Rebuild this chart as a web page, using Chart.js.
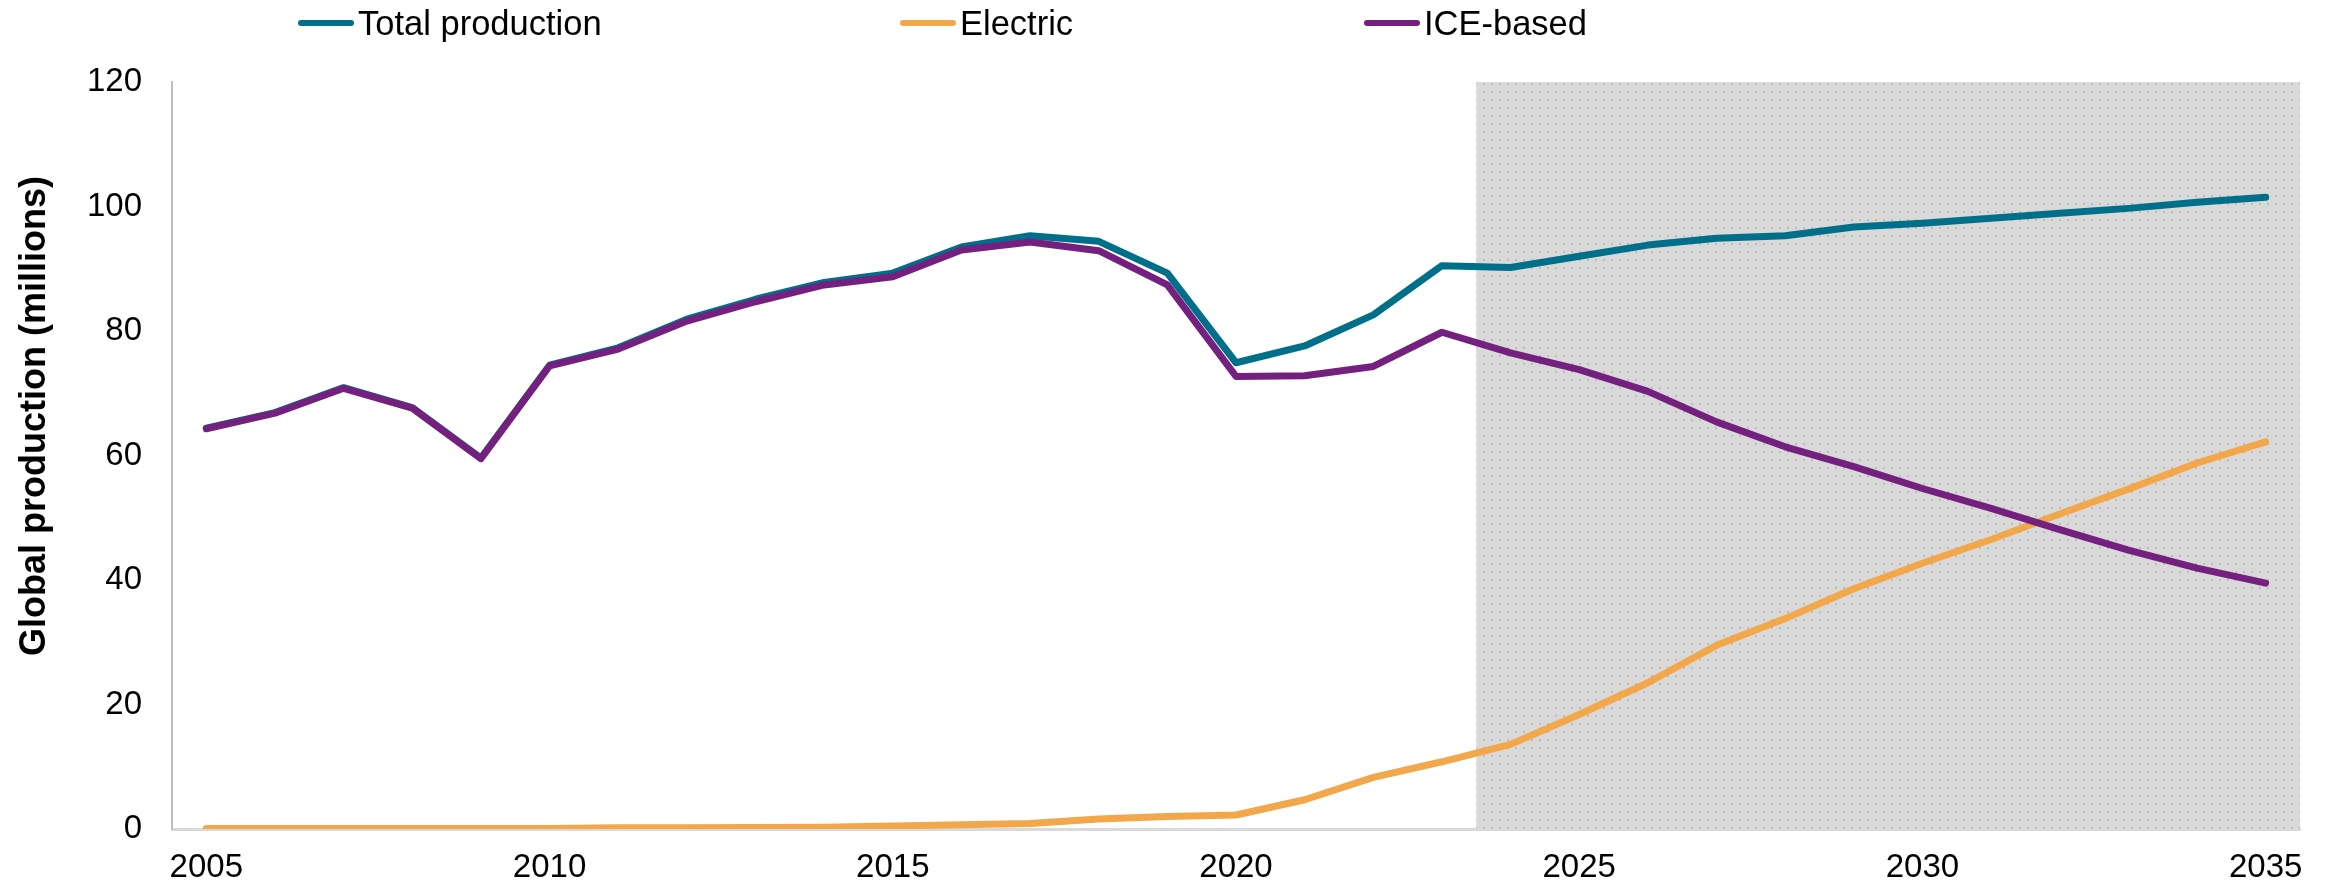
<!DOCTYPE html>
<html>
<head>
<meta charset="utf-8">
<title>Global vehicle production</title>
<script src="https://cdn.jsdelivr.net/npm/chart.js@4.4.1/dist/chart.umd.min.js"></script>
<style>
  body { margin: 0; background: #fff; font-family: "Liberation Sans", Arial, sans-serif; color: #000; }
  #wrap { position: relative; width: 2333px; height: 886px; overflow: hidden; }
  #chart { position: absolute; left: 0; top: 0; }
  .item { position: absolute; top: 6px; height: 34px; display: flex; align-items: center;
          font-size: 34.5px; line-height: 34px; white-space: nowrap; }
  .swatch { width: 56px; height: 6px; border-radius: 3px; margin-right: 4px; }
  #ytitle { position: absolute; left: 33px; top: 416px; transform: translate(-50%, -50%) rotate(-90deg);
            font-weight: bold; font-size: 36px; white-space: nowrap; }
</style>
</head>
<body>
<div id="wrap">
  <canvas id="chart" width="2333" height="886"></canvas>
  <div id="legend"></div>
  <div id="ytitle">Global production (millions)</div>
</div>
<script>
const years = [2005, 2006, 2007, 2008, 2009, 2010, 2011, 2012, 2013, 2014, 2015,
               2016, 2017, 2018, 2019, 2020, 2021, 2022, 2023, 2024, 2025, 2026,
               2027, 2028, 2029, 2030, 2031, 2032, 2033, 2034, 2035];
const yearTicks = [2005, 2010, 2015, 2020, 2025, 2030, 2035];
const forecastStart = 2024;

// millions of vehicles
const totalProduction = [64.4, 66.9, 70.9, 67.7, 59.6, 74.5, 77.3, 81.9, 85.1, 87.8, 89.3,
                         93.5, 95.3, 94.4, 89.3, 74.9, 77.6, 82.6, 90.5, 90.2, 92.0, 93.8,
                         94.9, 95.3, 96.7, 97.3, 98.1, 98.9, 99.7, 100.7, 101.5];
const electric = [0.1, 0.1, 0.1, 0.1, 0.1, 0.1, 0.2, 0.2, 0.25, 0.3, 0.5,
                  0.7, 0.9, 1.6, 2.0, 2.25, 4.7, 8.3, 10.8, 13.6, 18.4, 23.5,
                  29.5, 33.8, 38.6, 42.7, 46.5, 50.6, 54.6, 58.8, 62.2];
const iceBased = [64.3, 66.8, 70.8, 67.6, 59.5, 74.4, 77.1, 81.6, 84.7, 87.4, 88.7,
                  93.0, 94.3, 92.9, 87.4, 72.7, 72.8, 74.3, 79.8, 76.5, 73.8, 70.3,
                  65.4, 61.4, 58.2, 54.7, 51.5, 48.1, 44.8, 41.9, 39.5];

const colors = { total: '#00708a', electric: '#f2a84a', ice: '#74207f' };
const font = { family: '"Liberation Sans", Arial, sans-serif', size: 33 };

// dotted grey fill used behind the projection years
function dotPattern(ctx) {
  const tile = document.createElement('canvas');
  tile.width = 8; tile.height = 8;
  const t = tile.getContext('2d');
  t.fillStyle = '#d9d9d9';
  t.fillRect(0, 0, 8, 8);
  t.fillStyle = '#bcbcbc';
  t.fillRect(3, 3, 2, 2);
  return ctx.createPattern(tile, 'repeat');
}

const forecastShade = {
  id: 'forecastShade',
  beforeDatasetsDraw(chart) {
    const { ctx, chartArea, scales: { x, y } } = chart;
    const i = years.indexOf(forecastStart);
    const left = (x.getPixelForValue(i - 1) + x.getPixelForValue(i)) / 2;
    const top = y.getPixelForValue(y.max);
    ctx.save();
    ctx.fillStyle = dotPattern(ctx);
    ctx.fillRect(left, top, chartArea.right - left, chartArea.bottom - top);
    ctx.restore();
  }
};

const line = (label, data, color, order) => ({
  label, data, order,
  borderColor: color,
  backgroundColor: color,
  borderWidth: 7,
  borderCapStyle: 'round',
  borderJoinStyle: 'round',
  pointRadius: 0,
  tension: 0,
  fill: false
});

const chart = new Chart(document.getElementById('chart'), {
  type: 'line',
  data: {
    labels: years,
    datasets: [
      line('Total production', totalProduction, colors.total, 2),
      line('Electric', electric, colors.electric, 1),
      line('ICE-based', iceBased, colors.ice, 0)
    ]
  },
  options: {
    responsive: false,
    animation: false,
    devicePixelRatio: 1,
    layout: { padding: { top: 82, right: 33, bottom: 0, left: 0 } },
    plugins: { legend: { display: false }, tooltip: { enabled: false } },
    scales: {
      x: {
        type: 'category',
        offset: true,
        grid: { display: false },
        border: { color: '#d9d9d9', width: 3 },
        ticks: {
          autoSkip: false,
          maxRotation: 0,
          padding: 11,
          color: '#000',
          font,
          callback: (v, i) => yearTicks.includes(years[i]) ? String(years[i]) : ''
        },
        afterFit: s => { s.height = 57; }
      },
      y: {
        min: 0,
        max: 120,
        grid: { display: false },
        border: { color: '#bfbfbf', width: 2 },
        ticks: { stepSize: 20, padding: 22, color: '#000', font },
        afterFit: s => { s.width = 172; }
      }
    }
  },
  plugins: [forecastShade]
});

// legend row across the top
const legendX = [298, 900, 1364];
const legend = document.getElementById('legend');
chart.data.datasets.forEach((ds, i) => {
  const item = document.createElement('div');
  item.className = 'item';
  item.style.left = legendX[i] + 'px';
  item.innerHTML = `<span class="swatch" style="background:${ds.borderColor}"></span><span>${ds.label}</span>`;
  legend.appendChild(item);
});
</script>
</body>
</html>
